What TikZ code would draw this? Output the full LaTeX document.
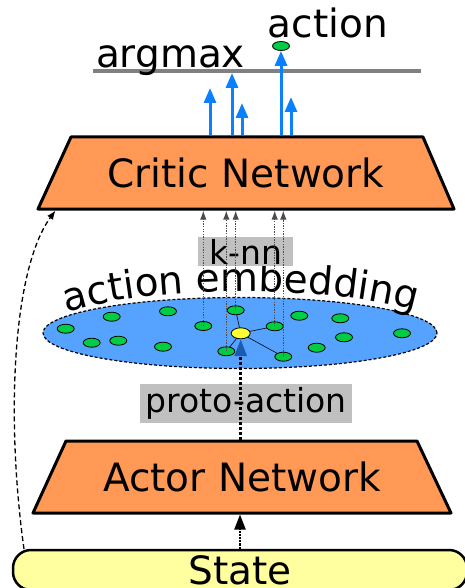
\documentclass[tikz,border=0pt]{standalone}
\usepackage{fontspec}
\setmainfont{DejaVu Sans}
\usetikzlibrary{shapes.geometric,arrows.meta,decorations.text}
\definecolor{netorange}{HTML}{FF9955}
\definecolor{embblue}{HTML}{56A3FF}
\definecolor{dotgreen}{HTML}{00CC44}
\definecolor{dotyellow}{HTML}{FFFF33}
\definecolor{statefill}{HTML}{FFFF9F}
\definecolor{arrowblue}{HTML}{0A80FF}
\definecolor{protoblue}{HTML}{1A5CB0}
\definecolor{labelgray}{HTML}{C0C0C0}
\definecolor{linegray}{HTML}{808080}
\newcommand\bigfnt{\fontsize{39pt}{39pt}\selectfont}
\newcommand\smallfnt{\fontsize{33pt}{33pt}\selectfont}
\begin{document}
\begin{tikzpicture}[x=1pt,y=-1pt,
  trapfill/.style={draw=black,line width=3pt,fill=netorange,line join=round},
  netlabel/.style={rectangle,font=\bigfnt,minimum width=416pt,minimum height=72pt,inner sep=0pt,outer sep=1.5pt},
  gdot/.style={ellipse,draw=black,line width=0.8pt,fill=dotgreen,minimum width=17pt,minimum height=9pt,inner sep=0pt},
  ydot/.style={gdot,fill=dotyellow,minimum width=19pt,minimum height=11pt},
  graylabel/.style={fill=labelgray,font=\smallfnt,inner sep=0pt},
  knnline/.style={dash pattern=on 1.3pt off 1.3pt,line width=1.3pt,black!70,-{Latex[length=9pt,width=6.5pt]}},
  neighbour/.style={line width=0.6pt,black},
  bluearrow/.style={arrowblue,line width=3pt,-{Triangle[length=15pt,width=12pt]}},
  protoarrow/.style={dotted,line width=3pt,black,-{Triangle[length=17pt,width=12pt,color=protoblue]}},
  statearrow/.style={densely dotted,line width=2.2pt,black,-{Triangle[length=15pt,width=11pt]}},
  dasharrow/.style={dash pattern=on 5pt off 3pt,line width=1.3pt,black,-{Latex[length=9pt,width=7pt]}},
]
\useasboundingbox (0,0) rectangle (464,588);

% argmax line and labels
\draw[linegray,line width=3.5pt] (93,71) -- (421,71);
\node[font=\bigfnt,anchor=base,inner sep=0pt] (argmax) at (170.5,68) {argmax};
\node[font=\bigfnt,anchor=base,inner sep=0pt] (actionlbl) at (328,38) {action};
\node[gdot] (act) at (281,46) {};

% critic network
\path[trapfill] (71,137) -- (423,137) -- (454,209) -- (38,209) -- cycle;
\node[netlabel] (critic) at (246,173) {Critic Network};

% actor network
\path[trapfill] (66,441) -- (417,441) -- (451,513) -- (33,513) -- cycle;
\node[netlabel,minimum width=418pt] (actor) at (242,477) {Actor Network};

% state
\node[draw=black,line width=2.5pt,fill=statefill,rounded corners=18pt,
  minimum width=454pt,minimum height=40pt,inner sep=0pt,outer sep=1.25pt,font=\bigfnt] (state) at (240,570) {State};

% embedding
\node[ellipse,draw=black,dash pattern=on 3pt off 2pt,line width=1.2pt,fill=embblue,minimum width=394pt,minimum height=71pt,inner sep=0pt] (embed) at (240,333) {};
\path[decorate,decoration={text along path,text={|\bigfnt|action embedding},text align=center}]
  (62,314) .. controls (150,284) and (330,284) .. (420,312);

% dots
\coordinate (y0) at (240.7,333.3);
\coordinate (p1) at (65.7,328.7);
\coordinate (p2) at (111.7,316.7);
\coordinate (p3) at (168,311.3);
\coordinate (p4) at (203.3,326);
\coordinate (p5) at (235.7,310.3);
\coordinate (p6) at (274.7,326.3);
\coordinate (p7) at (299.3,315.7);
\coordinate (p8) at (340.3,318.3);
\coordinate (p9) at (402,333.3);
\coordinate (p10) at (344,337.3);
\coordinate (p11) at (316.7,347.7);
\coordinate (p12) at (283.3,356.7);
\coordinate (p13) at (226.3,351.3);
\coordinate (p14) at (163,346.7);
\coordinate (p15) at (118.3,340.7);
\coordinate (p16) at (91.7,342.7);

\draw[neighbour] (y0) -- (p5);
\draw[neighbour] (y0) -- (p6);
\draw[neighbour] (y0) -- (p12);
\draw[neighbour] (y0) -- (p13);

\foreach \i in {1,...,16} { \node[gdot] (d\i) at (p\i) {}; }

% proto-action
\node[graylabel,minimum width=212pt,minimum height=39pt] (protolbl) at (246,403.5) {proto-action};
\node[ydot] (yel) at (y0) {};
\draw[protoarrow] (yel |- actor.north) -- (yel.south);

% k-nn
\node[graylabel,minimum width=95pt,minimum height=29pt] (knn) at (245.5,251.5) {k-nn};
\foreach \i in {4,5,6,12,13} { \draw[knnline] (d\i.center) -- (d\i |- critic.south); }

% blue arrows to argmax
\coordinate (b1) at (210,88);
\coordinate (b2) at (232,73);
\coordinate (b3) at (242,103);
\coordinate (b5) at (291,97);
\draw[bluearrow] (b1 |- critic.north) -- (b1);
\draw[bluearrow] (b2 |- critic.north) -- (b2);
\draw[bluearrow] (b3 |- critic.north) -- (b3);
\draw[bluearrow] (act |- critic.north) -- (act.south);
\draw[bluearrow] (b5 |- critic.north) -- (b5);

% state to actor
\draw[statearrow] (state.north) -- (state.north |- actor.south);

% state to critic
\coordinate (s0) at (24,549);
\draw[dasharrow] (s0) .. controls (6,420) and (12,270) .. ([xshift=19pt]critic.south west);
\end{tikzpicture}
\end{document}
